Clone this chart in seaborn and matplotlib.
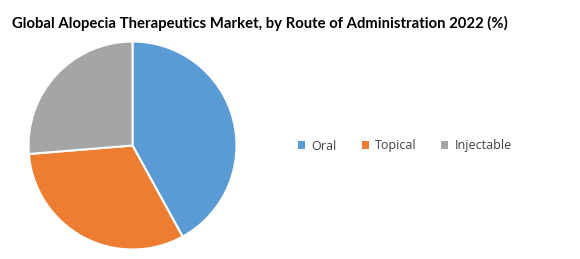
import matplotlib
matplotlib.use("Agg")
import matplotlib.pyplot as plt
import seaborn as sns
from matplotlib.patches import Patch

categories = ["Oral", "Topical", "Injectable"]
shares = [42.0, 31.7, 26.3]
colors = ["#5B9BD5", "#ED7D31", "#A5A5A5"]
title = "Global Alopecia Therapeutics Market, by Route of Administration 2022 (%)"

sns.set_theme(style="white")
plt.rcParams['font.family'] = ['Open Sans', 'DejaVu Sans']

W, H = 580, 259
fig = plt.figure(figsize=(W / 100, H / 100), dpi=100)
fig.patch.set_facecolor("white")

cx, cy, r = 132.5, 145.5, 104
ax = fig.add_axes([(cx - r) / W, (H - cy - r) / H, 2 * r / W, 2 * r / H])
ax.pie(shares, colors=sns.color_palette(colors), startangle=90, counterclock=False,
       wedgeprops=dict(edgecolor="white", linewidth=1.5), radius=1)
ax.set_xlim(-1.0, 1.0)
ax.set_ylim(-1.0, 1.0)
ax.set_aspect("auto")
ax.axis("off")

fig.text(260 / W, 1 - 23 / H, title, ha="center", va="center",
         fontsize=10.7, fontweight="bold", color="black", family=["Lato", "DejaVu Sans"])

handles = [Patch(facecolor=c, edgecolor="none") for c in colors]
leg = fig.legend(handles, categories, loc="center", bbox_to_anchor=(405 / W, 1 - 146 / H),
                 ncol=3, frameon=False, fontsize=9, handlelength=0.55, handleheight=0.55,
                 handletextpad=0.5, columnspacing=2.0, labelcolor="#404040")

fig.savefig("out.png", dpi=100, facecolor="white")
